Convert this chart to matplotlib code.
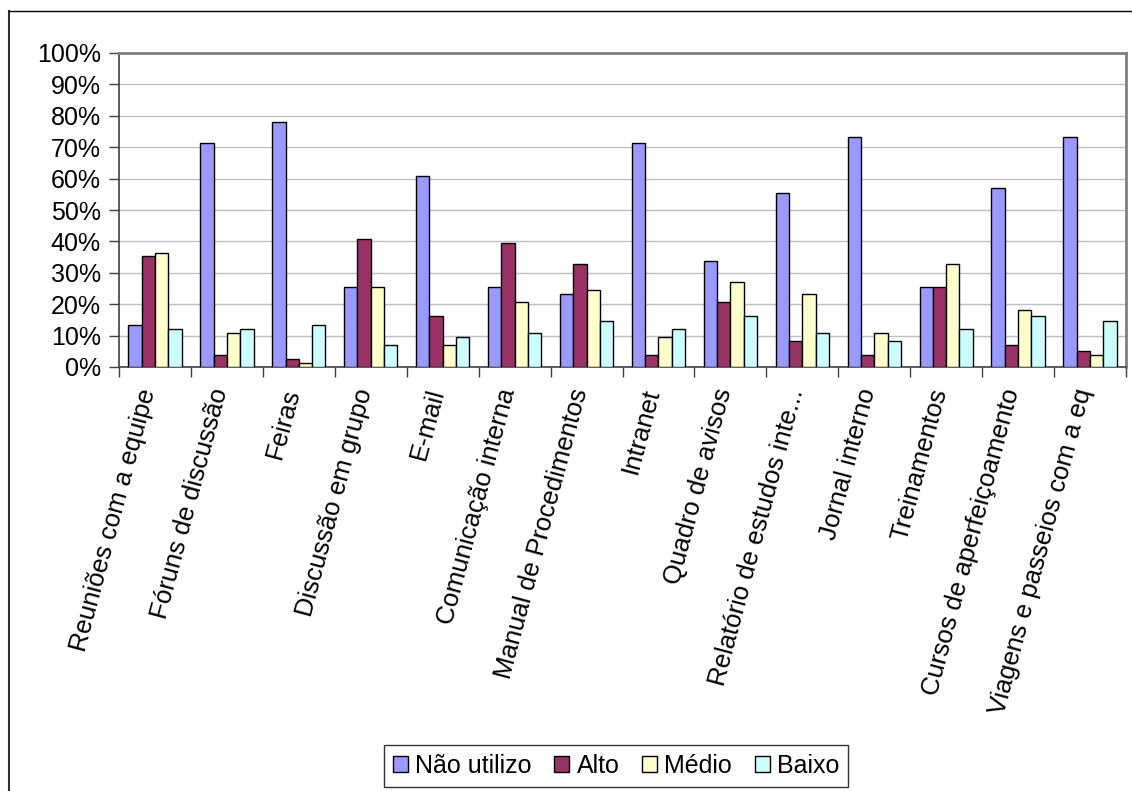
import matplotlib
matplotlib.use("Agg")
import matplotlib.pyplot as plt
import numpy as np
from matplotlib.lines import Line2D
from matplotlib.ticker import FixedLocator, NullFormatter, FuncFormatter

plt.rcParams['font.family'] = ['Liberation Sans', 'DejaVu Sans']

categories = ["Reuniões com a equipe", "Fóruns de discussão", "Feiras",
              "Discussão em grupo", "E-mail", "Comunicação interna",
              "Manual de Procedimentos", "Intranet", "Quadro de avisos",
              "Relatório de estudos inte...", "Jornal interno", "Treinamentos",
              "Cursos de aperfeiçoamento", "Viagens e passeios com a eq"]
series_names = ["Não utilizo", "Alto", "Médio", "Baixo"]
nao_utilizo = [13.4, 71.3, 78.1, 25.6, 60.7, 25.6, 23.2, 71.3, 33.9, 55.4, 73.1, 25.6, 56.9, 73.1]
alto        = [35.2, 3.8, 2.5, 40.7, 16.2, 39.5, 32.8, 3.8, 20.8, 8.3, 3.8, 25.6, 7.0, 5.0]
medio       = [36.3, 10.9, 1.3, 25.6, 7.0, 20.8, 24.6, 9.6, 27.1, 23.2, 10.9, 32.8, 18.3, 3.8]
baixo       = [12.1, 12.1, 13.4, 7.0, 9.6, 10.9, 14.7, 12.1, 16.2, 10.9, 8.3, 12.1, 16.2, 14.7]
colors = ["#9999FF", "#993366", "#FFFFCC", "#CCFFFF"]
yticks = [0, 10, 20, 30, 40, 50, 60, 70, 80, 90, 100]

W, H = 1132, 791
fig = plt.figure(figsize=(W / 100, H / 100), dpi=100)
ax = fig.add_axes([119 / W, 1 - 367 / H, (1126 - 119) / W, (367 - 53) / H])

n = len(categories)
x = np.arange(n)
bw = 0.185
data = [nao_utilizo, alto, medio, baixo]
handles = []
for i, (vals, c, name) in enumerate(zip(data, colors, series_names)):
    b = ax.bar(x + (i - 1.5) * bw, vals, width=bw, color=c, edgecolor="black",
               linewidth=1.0, label=name, zorder=3)
    handles.append(b)

ax.set_xlim(-0.5, n - 0.5)
ax.set_ylim(0, 100)
ax.set_yticks(yticks)
ax.yaxis.set_major_formatter(FuncFormatter(lambda v, p: f"{int(v)}%"))
ax.grid(axis="y", color="#c0c0c0", linewidth=1.0, zorder=0)
ax.set_axisbelow(True)

# category boundary ticks
ax.xaxis.set_major_locator(FixedLocator(np.arange(-0.5, n, 1.0)))
ax.xaxis.set_major_formatter(NullFormatter())
ax.tick_params(axis="x", which="major", length=7, width=1, color="#404040", direction="out")
ax.tick_params(axis="y", length=7, width=1, color="#404040", labelsize=18, pad=6)

for sp in ["left", "bottom"]:
    ax.spines[sp].set_color("#404040")
    ax.spines[sp].set_linewidth(1.2)
for sp in ["top", "right"]:
    ax.spines[sp].set_color("#808080")
    ax.spines[sp].set_linewidth(2.0)

# rotated category labels
for xi, lab in zip(x, categories):
    ax.annotate(lab, xy=(xi, 0), xycoords=("data", "axes fraction"),
                xytext=(-6, -22), textcoords="offset pixels",
                rotation=75, ha="right", va="center", rotation_mode="anchor",
                fontsize=18.5)

leg = fig.legend(handles=handles, labels=series_names, loc="center",
                 bbox_to_anchor=(616 / W, 1 - 766 / H), ncol=4, frameon=True,
                 fancybox=False, edgecolor="black", fontsize=18,
                 handlelength=0.6, handleheight=0.6, handletextpad=0.3,
                 columnspacing=0.9, borderpad=0.35, borderaxespad=0)
leg.get_frame().set_linewidth(1.0)

# outer chart frame (top and left visible)
fig.add_artist(Line2D([9 / W, 9 / W], [0, 1 - 11 / H], transform=fig.transFigure,
                      color="#303030", linewidth=1.5))
fig.add_artist(Line2D([9 / W, 1], [1 - 11 / H, 1 - 11 / H], transform=fig.transFigure,
                      color="#000000", linewidth=1.0))

fig.savefig("out.png", dpi=100)
